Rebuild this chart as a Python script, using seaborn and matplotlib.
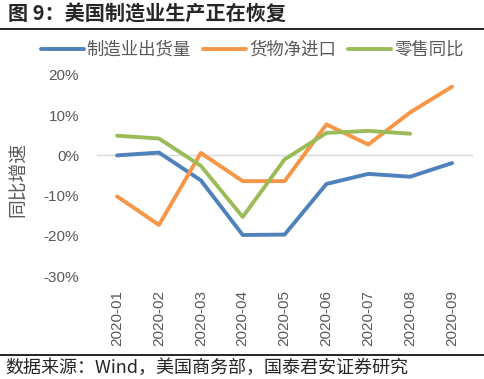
import pandas as pd
import seaborn as sns
import matplotlib.pyplot as plt
from matplotlib.lines import Line2D

sns.set_theme(style="white")
plt.rcParams['font.family'] = ['Liberation Sans', 'Noto Sans CJK SC', 'DejaVu Sans']

months = ['2020-01', '2020-02', '2020-03', '2020-04', '2020-05',
          '2020-06', '2020-07', '2020-08', '2020-09']
shipments = [0.0, 0.7, -6.2, -19.8, -19.7, -7.1, -4.6, -5.3, -1.9]
net_imports = [-10.2, -17.3, 0.6, -6.4, -6.4, 7.7, 2.7, 10.7, 17.1]
retail = [4.9, 4.2, -2.6, -15.3, -1.0, 5.6, 6.1, 5.4, None]

series_names = ['制造业出货量', '货物净进口', '零售同比']
colors = {'制造业出货量': '#4F81BD', '货物净进口': '#F79646', '零售同比': '#9BBB59'}


def build_frame():
	rows = []
	for name, vals in zip(series_names, [shipments, net_imports, retail]):
		for i, v in enumerate(vals):
			if v is not None:
				rows.append({'idx': i, 'value': v, 'series': name})
	return pd.DataFrame(rows)


def main():
	df = build_frame()
	fig = plt.figure(figsize=(4.84, 3.79), dpi=100)
	ax = fig.add_axes([97 / 484, 1 - 276 / 379, 376 / 484, 201 / 379])

	ax.axhline(0, color='#D9D9D9', linewidth=1, zorder=0)
	sns.lineplot(data=df, x='idx', y='value', hue='series', palette=colors,
				 hue_order=series_names, linewidth=2.8, ax=ax, legend=False)

	ax.set_xlim(-0.48, 8.5)
	ax.set_ylim(-30, 20)
	ax.set_xticks(range(len(months)))
	ax.set_xticklabels(months, rotation=90)
	ax.set_yticks([-30, -20, -10, 0, 10, 20])
	ax.set_yticklabels([f'{t}%' for t in [-30, -20, -10, 0, 10, 20]])
	ax.tick_params(axis='both', length=0, labelsize=11, colors='#595959')
	ax.tick_params(axis='y', pad=13)
	ax.tick_params(axis='x', pad=10)
	for s in ax.spines.values():
		s.set_visible(False)
	ax.set_xlabel('')
	ax.set_ylabel('同比增速', fontsize=13.5, color='#595959',
				  family=['Noto Sans CJK SC'])
	ax.yaxis.set_label_coords(-68 / 376, 0.48)

	handles = [Line2D([0], [0], color=colors[n], linewidth=2.8) for n in series_names]
	fig.legend(handles, series_names, loc='center', ncol=3,
			   bbox_to_anchor=(252 / 484, 1 - 50 / 379), frameon=False,
			   prop={'family': 'Noto Sans CJK SC', 'size': 12.5},
			   handlelength=2.5, handletextpad=0.15, columnspacing=0.7,
			   labelcolor='#595959')

	fig.text(8 / 484, 1 - 14 / 379, '图 9：美国制造业生产正在恢复', fontsize=14.5,
			 fontweight='bold', family=['Noto Sans CJK SC'], va='center', ha='left')
	fig.add_artist(Line2D([0, 1], [1 - 29 / 379, 1 - 29 / 379], color='black',
						  linewidth=1.2, transform=fig.transFigure))
	fig.add_artist(Line2D([0, 1], [1 - 355 / 379, 1 - 355 / 379], color='black',
						  linewidth=1.2, transform=fig.transFigure))
	fig.text(5 / 484, 1 - 368 / 379, '数据来源：Wind，美国商务部，国泰君安证券研究',
			 fontsize=13, family=['Noto Sans CJK SC'], va='center', ha='left')

	fig.savefig('out.png', dpi=100)


if __name__ == "__main__":
	main()
